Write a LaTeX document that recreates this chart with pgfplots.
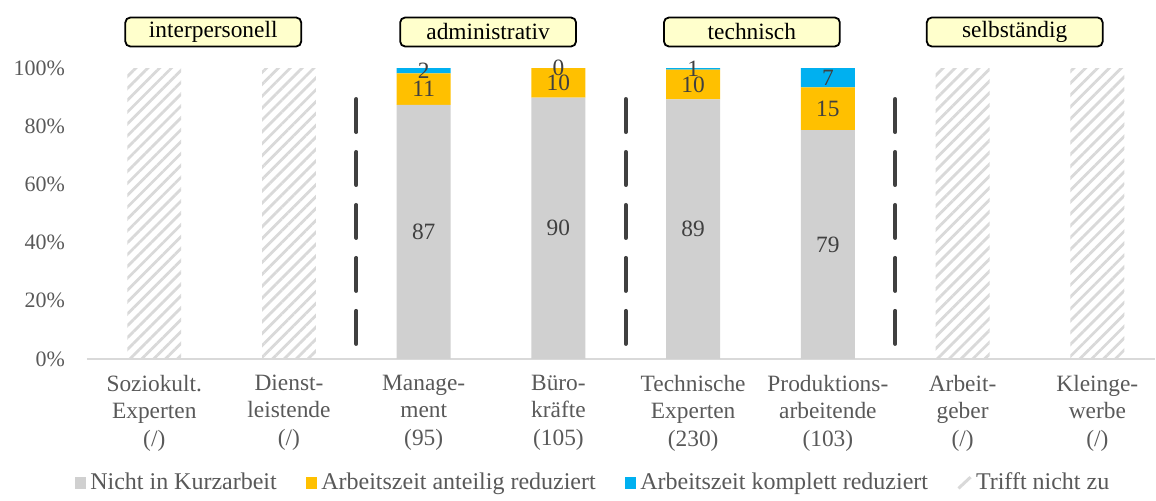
\documentclass[border=0pt]{standalone}
\usepackage{pgfplots}
\pgfplotsset{compat=1.18}
\usetikzlibrary{patterns.meta}
\usepackage{fontspec}
\setmainfont{Liberation Serif}

\definecolor{cgray}{HTML}{D0D0D0}
\definecolor{corange}{HTML}{FFC000}
\definecolor{cblue}{HTML}{00B0F0}
\definecolor{chatch}{HTML}{D9D9D9}
\definecolor{ctext}{HTML}{595959}
\definecolor{clabel}{HTML}{404040}
\definecolor{cbox}{HTML}{FFFFCC}

\pgfplotsset{
  base/.style={
    width=534.5pt, height=145.5pt, scale only axis,
    xmin=-0.5, xmax=7.43, ymin=0, ymax=100,
    clip=false,
  },
  sq/.style={legend image code/.code={\fill[##1] (0pt,-2.9pt) rectangle (5.8pt,2.9pt);}},
}

\begin{document}
\begin{tikzpicture}
\begin{axis}[base,
  ybar stacked, bar width=27pt,
  axis x line*=bottom, axis y line*=left,
  y axis line style={draw=none},
  x axis line style={chatch, line width=0.75pt},
  tick style={draw=none},
  xtick={0,...,7},
  xticklabels={{Soziokult.\\Experten\\(/)},{Dienst-\\leistende\\(/)},{Manage-\\ment\\(95)},{Büro-\\kräfte\\(105)},{Technische\\Experten\\(230)},{Produktions-\\arbeitende\\(103)},{Arbeit-\\geber\\(/)},{Kleinge-\\werbe\\(/)}},
  xticklabel style={align=center, text=ctext, yshift=-4.5pt, font=\fontsize{11.7}{13.75}\selectfont},
  ytick={0,20,...,100},
  yticklabel={\pgfmathprintnumber{\tick}\%},
  /pgf/number format/assume math mode=true,
  yticklabel style={text=ctext, xshift=-7.5pt, font=\fontsize{11}{13}\selectfont},
  legend columns=4,
  legend cell align=left,
  legend style={at={(axis cs:3.264,-42.6)}, anchor=center, draw=none,
    font=\fontsize{12}{14}\selectfont, text=ctext,
    /tikz/every even column/.append style={column sep=12.5pt}},
]
\addplot[fill=cgray, draw=none, sq] coordinates {(0,0)(1,0)(2,87.3)(3,89.8)(4,89.2)(5,78.7)(6,0)(7,0)};
\addplot[fill=corange, draw=none, sq] coordinates {(0,0)(1,0)(2,10.9)(3,10.2)(4,10.3)(5,14.7)(6,0)(7,0)};
\addplot[fill=cblue, draw=none, sq] coordinates {(0,0)(1,0)(2,1.8)(3,0)(4,0.5)(5,6.6)(6,0)(7,0)};
\addplot[pattern={Lines[angle=45,distance=4.2pt,line width=1.4pt]}, pattern color=chatch, draw=none,
  legend image code/.code={\draw[chatch, line width=1.5pt] (0pt,-2.8pt) -- (6pt,2.8pt);}]
  coordinates {(0,100)(1,100)(2,0)(3,0)(4,0)(5,0)(6,100)(7,100)};
\legend{Nicht in Kurzarbeit, Arbeitszeit anteilig reduziert, Arbeitszeit komplett reduziert, Trifft nicht zu}
\end{axis}

\begin{axis}[base, hide axis]
\addplot[draw=none, mark=none, nodes near coords, point meta=explicit symbolic,
  nodes near coords style={anchor=center, text=clabel, font=\fontsize{11.7}{13}\selectfont}]
  coordinates {(2,43.65)[87] (2,92.75)[11] (2,99.1)[2]
               (3,44.9)[90] (3,94.9)[10] (3,100)[0]
               (4,44.6)[89] (4,94.35)[10] (4,99.75)[1]
               (5,39.35)[79] (5,86.05)[15] (5,96.7)[7]};
\foreach \xx in {1.5,3.5,5.5}{
  \edef\tmp{\noexpand\draw[clabel, line width=2pt, line cap=round, dash pattern=on 16.5pt off 10pt]
    (axis cs:\xx,89.35) -- (axis cs:\xx,5.15);}\tmp
}
\tikzset{grp/.style={draw=black, fill=cbox, rounded corners=2.5pt, line width=0.9pt,
  minimum width=88pt, minimum height=14.5pt, inner sep=0pt, font=\fontsize{11.7}{13}\selectfont}}
\node[grp] at (axis cs:0.438,112.4) {interpersonell};
\node[grp] at (axis cs:2.478,112.4) {administrativ};
\node[grp] at (axis cs:4.436,112.4) {technisch};
\node[grp] at (axis cs:6.387,112.4) {selbständig};
\path (axis cs:-1.145,-48.1) rectangle (axis cs:7.43,123.4);
\end{axis}
\end{tikzpicture}
\end{document}
